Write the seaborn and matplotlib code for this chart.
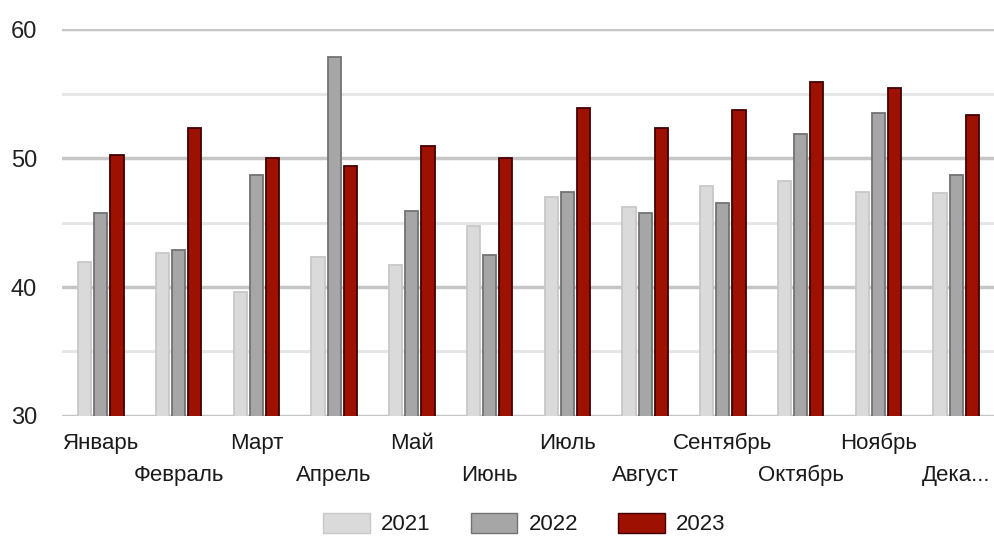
import pandas as pd
import numpy as np
import matplotlib.pyplot as plt
import seaborn as sns

months = ["Январь", "Февраль", "Март", "Апрель", "Май", "Июнь",
          "Июль", "Август", "Сентябрь", "Октябрь", "Ноябрь", "Дека..."]
years = ["2021", "2022", "2023"]
vals_2021 = [41.9, 42.6, 39.6, 42.3, 41.7, 44.7, 47.0, 46.2, 47.8, 48.2, 47.4, 47.3]
vals_2022 = [45.7, 42.9, 48.7, 57.8, 45.9, 42.5, 47.4, 45.7, 46.5, 51.9, 53.5, 48.7]
vals_2023 = [50.2, 52.3, 50.0, 49.4, 50.9, 50.0, 53.9, 52.3, 53.7, 55.9, 55.4, 53.3]

df = pd.DataFrame({
    "month": months * 3,
    "year": [y for y in years for _ in months],
    "value": vals_2021 + vals_2022 + vals_2023,
})

sns.set_style("white")
plt.rcParams['font.family'] = ['Liberation Sans', 'DejaVu Sans']

fill = {"2021": "#dadada", "2022": "#a6a6a6", "2023": "#9e1000"}
edge = {"2021": "#c8c8c8", "2022": "#737373", "2023": "#420000"}

fig = plt.figure(figsize=(9.95, 5.38), dpi=100)
ax = fig.add_axes([0.0623, 0.2268, 0.9377, 0.7192])

sns.barplot(data=df, x="month", y="value", hue="year", palette=fill, saturation=1,
            width=0.62, gap=0.18, ax=ax, legend=False, zorder=3)
for bars, y in zip(ax.containers, years):
    for b in bars:
        b.set_edgecolor(edge[y])
        b.set_linewidth(1.3)

ax.set_ylim(30, 60)
ax.set_xlim(-0.5, 11.5)
ax.set_yticks([30, 40, 50, 60])
ax.set_yticks([35, 45, 55], minor=True)
ax.grid(axis='y', which='major', color='#c6c6c6', linewidth=2.5, zorder=0)
ax.grid(axis='y', which='minor', color='#e6e6e6', linewidth=2.2, zorder=0)
ax.set_axisbelow(True)
for s in ax.spines.values():
    s.set_visible(False)
ax.set_xlabel("")
ax.set_ylabel("")
ax.tick_params(axis='y', which='both', length=0, pad=18, labelsize=17, labelcolor='#222222')
ax.tick_params(axis='x', length=0, labelsize=16, labelcolor='#1a1a1a')
for i, t in enumerate(ax.xaxis.get_major_ticks()):
    t.set_pad(12 if i % 2 == 0 else 35)

handles = [plt.Rectangle((0, 0), 1, 1, facecolor=fill[y], edgecolor=edge[y], linewidth=1) for y in years]
fig.legend(handles, years, loc='center', bbox_to_anchor=(0.527, 0.026), ncol=3,
           frameon=False, fontsize=16, handlelength=2.1, handleheight=1.0,
           handletextpad=0.5, columnspacing=1.8, labelcolor='#1a1a1a')

fig.savefig("out.png", dpi=100)
